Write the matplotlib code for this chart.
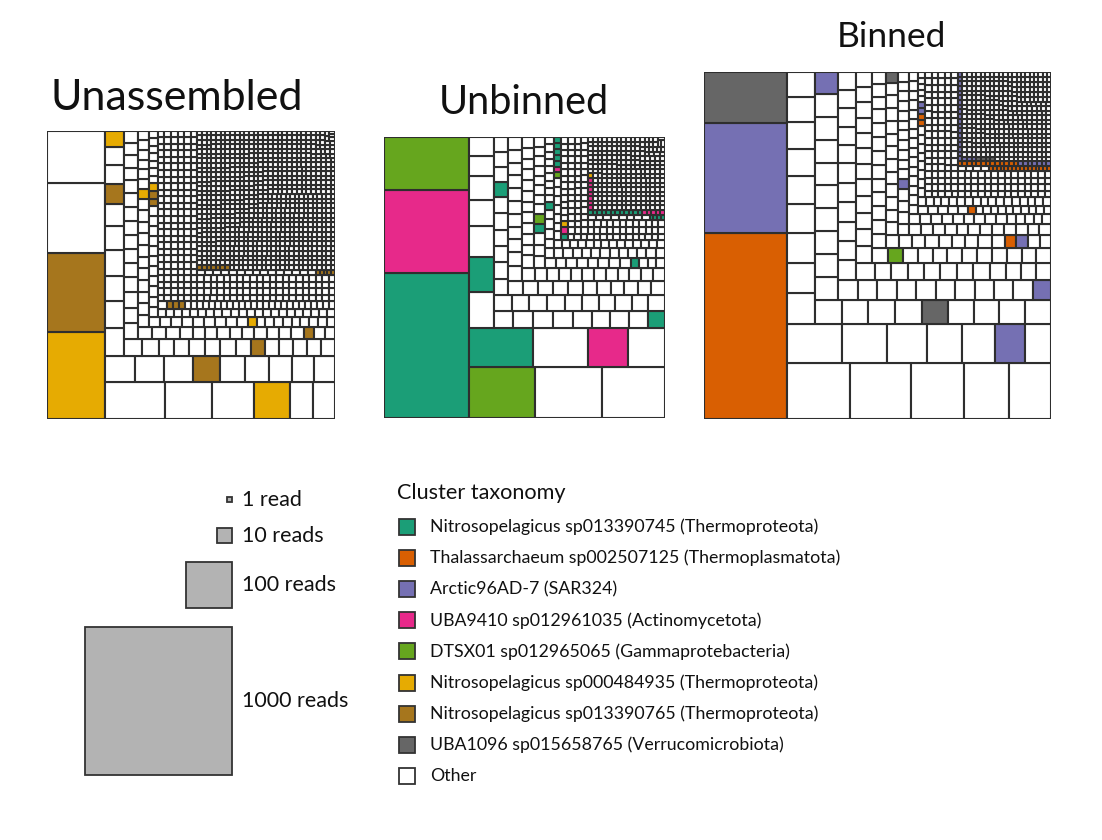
import numpy as np
import matplotlib.pyplot as plt
from matplotlib.patches import Rectangle
from matplotlib.collections import PatchCollection

plt.rcParams['font.family'] = ['Lato', 'DejaVu Sans']

# Cluster taxonomy (Dark2 palette)
taxa = ["Nitrosopelagicus sp013390745 (Thermoproteota)",
        "Thalassarchaeum sp002507125 (Thermoplasmatota)",
        "Arctic96AD-7 (SAR324)",
        "UBA9410 sp012961035 (Actinomycetota)",
        "DTSX01 sp012965065 (Gammaprotebacteria)",
        "Nitrosopelagicus sp000484935 (Thermoproteota)",
        "Nitrosopelagicus sp013390765 (Thermoproteota)",
        "UBA1096 sp015658765 (Verrucomicrobiota)",
        "Other"]
taxa_colors = ['#1b9e77', '#d95f02', '#7570b3', '#e7298a', '#66a61e',
               '#e6ab02', '#a6761d', '#666666', '#ffffff']

# --- Unassembled: reads per cluster ---
unasm_other_sizes = [187, 140, 102, 80, 73, 40, 38, 37, 36, 35, 31, 29, 28, 27, 26,
                     25, 24, 23, 22, 20, 17, 16, 14, 13, 12, 11, 10, 9, 8, 7, 6, 5, 4, 3, 2, 1]
unasm_other_counts = [1, 1, 1, 1, 1, 1, 1, 1, 1, 1, 1, 1, 1, 1, 1,
                      1, 1, 2, 1, 1, 1, 1, 1, 1, 6, 5, 4, 6, 8, 10, 13, 15, 20, 30, 280, 880]
unasm_col_sizes = [232, 211, 60, 33, 18, 15, 11, 6, 5, 4, 3, 3, 2, 1]
unasm_col_taxa = [5, 6, 5, 6, 6, 5, 6, 6, 5, 5, 6, 5, 6, 6]
unasm_col_counts = [1, 1, 1, 1, 1, 1, 1, 1, 1, 1, 2, 1, 3, 12]

# --- Unbinned ---
unbin_other_sizes = [156, 149, 99, 67, 41, 35, 29, 27, 23, 21, 16, 15, 13, 12, 11,
                     10, 9, 8, 7, 6, 5, 4, 3, 2, 1]
unbin_other_counts = [1, 1, 1, 1, 1, 1, 1, 1, 1, 1, 4, 4, 4, 6, 6,
                      8, 8, 10, 12, 14, 16, 20, 30, 105, 250]
unbin_col_sizes = [569, 330, 207, 156, 114, 72, 40, 14, 10, 5, 5, 4, 3, 2, 2, 2, 2, 2, 1, 1, 1]
unbin_col_taxa = [0, 3, 4, 4, 0, 3, 0, 0, 0, 0, 4, 0, 0, 4, 3, 0, 3, 5, 0, 3, 5]
unbin_col_counts = [1, 1, 1, 1, 1, 1, 1, 1, 1, 1, 1, 1, 1, 1, 1, 6, 1, 1, 16, 12, 1]

# --- Binned ---
binned_other_sizes = [163, 161, 137, 119, 109, 97, 81, 70, 62, 60, 46,
                      40, 39, 38, 37, 36, 35, 34, 33, 32, 30, 29, 25, 18,
                      16, 15, 13, 12, 11, 10, 9, 8, 7, 6, 5, 4, 3, 2, 1]
binned_other_counts = [1, 1, 1, 1, 1, 1, 1, 1, 1, 1, 1,
                       1, 1, 1, 1, 1, 1, 1, 1, 1, 4, 4, 9, 10,
                       6, 6, 8, 8, 8, 10, 10, 12, 14, 16, 20, 25, 35, 160, 360]
binned_col_sizes = [715, 423, 196, 53, 29, 24, 17, 10, 7, 7, 6, 5, 3, 2, 2, 1, 1, 1]
binned_col_taxa = [1, 2, 7, 2, 7, 2, 2, 4, 1, 2, 7, 2, 1, 1, 2, 1, 2, 7]
binned_col_counts = [1, 1, 1, 1, 1, 1, 1, 1, 1, 1, 1, 1, 1, 2, 2, 29, 29, 4]

size_legend_reads = [1, 10, 100, 1000]
size_legend_labels = ["1 read", "10 reads", "100 reads", "1000 reads"]

panels = [
    ("Unassembled", unasm_other_sizes, unasm_other_counts, unasm_col_sizes, unasm_col_taxa, unasm_col_counts),
    ("Unbinned", unbin_other_sizes, unbin_other_counts, unbin_col_sizes, unbin_col_taxa, unbin_col_counts),
    ("Binned", binned_other_sizes, binned_other_counts, binned_col_sizes, binned_col_taxa, binned_col_counts),
]


def squarify(vals, x, y, dx, dy):
    rects = []
    i, n = 0, len(vals)
    while i < n:
        side = min(dx, dy)
        s = rmax = rmin = vals[i]
        cur = max(side * side * rmax / (s * s), s * s / (side * side * rmin))
        j = i + 1
        while j < n:
            r = vals[j]
            s2 = s + r
            w2 = max(side * side * max(rmax, r) / (s2 * s2), s2 * s2 / (side * side * min(rmin, r)))
            if w2 > cur:
                break
            s, cur = s2, w2
            rmax, rmin = max(rmax, r), min(rmin, r)
            j += 1
        row = vals[i:j]
        if dx >= dy:
            w = s / dy
            yy = y
            for r in row:
                rects.append((x, yy, w, r / w))
                yy += r / w
            x += w
            dx -= w
        else:
            h = s / dx
            xx = x
            for r in row:
                rects.append((xx, y, r / h, h))
                xx += r / h
            y += h
            dy -= h
        i = j
    return rects


W, H = 1102, 840
px_per_unit = 4.65  # side of one read, in pixels
fig = plt.figure(figsize=(W / 100, H / 100), dpi=100)

# overlay in pixel coords for titles and legends
ov = fig.add_axes([0, 0, 1, 1])
ov.set_xlim(0, W)
ov.set_ylim(H, 0)
ov.axis('off')

panel_pos = [(47, 419), (384, 418), (704, 419)]   # left, bottom (px)
title_pos = [(177, 98), (524, 103), (891, 37)]
title_size = [31, 28.5, 25.5]

for (name, osz, ocnt, csz, ctax, ccnt), (left, bottom), (tx, ty), fs in zip(panels, panel_pos, title_pos, title_size):
    clusters = []
    for s, c, t in zip(csz, ccnt, ctax):
        clusters += [(s, 0, t)] * c
    for s, c in zip(osz, ocnt):
        clusters += [(s, 1, 8)] * c
    clusters.sort(key=lambda k: (-k[0], k[1]))
    vals = [float(k[0]) for k in clusters]
    total = sum(vals)
    side = np.sqrt(total)
    rects = squarify(vals, 0.0, 0.0, side, side)

    side_px = side * px_per_unit
    ax = fig.add_axes([left / W, (H - bottom) / H, side_px / W, side_px / H])
    patches = [Rectangle((x, y), w, h) for x, y, w, h in rects]
    pc = PatchCollection(patches, facecolors=[taxa_colors[k[2]] for k in clusters],
                         edgecolors='#2e2e2e', linewidths=1.5)
    ax.add_collection(pc)
    ax.set_xlim(0, side)
    ax.set_ylim(0, side)
    ax.axis('off')
    ov.text(tx, ty, name, fontsize=fs, ha='center', va='center', color='#111111')

# size legend
for reads, lab, cy in zip(size_legend_reads, size_legend_labels, [499.5, 535.5, 585, 701]):
    s = np.sqrt(reads) * px_per_unit
    ov.add_patch(Rectangle((232 - s, cy - s / 2), s, s, facecolor='#b3b3b3',
                           edgecolor='#333333', linewidth=1.3))
    ov.text(242, cy, lab, fontsize=15.5, ha='left', va='center', color='#111111')

# taxonomy legend
ov.text(397, 493, "Cluster taxonomy", fontsize=15.6, ha='left', va='center', color='#111111')
for i, (lab, col) in enumerate(zip(taxa, taxa_colors)):
    cy = 527 + i * 31.1
    ov.add_patch(Rectangle((399, cy - 8), 16, 16, facecolor=col, edgecolor='#333333', linewidth=1.3))
    ov.text(430, cy, lab, fontsize=12.8, ha='left', va='center', color='#111111')

fig.savefig('out.png', dpi=100)
